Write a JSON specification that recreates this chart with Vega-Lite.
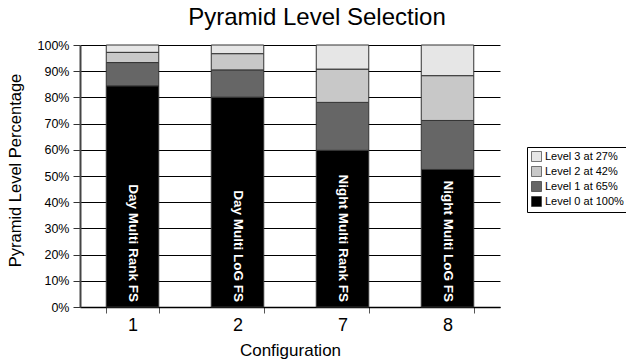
{
  "$schema": "https://vega.github.io/schema/vega-lite/v6.json",
  "autosize": "none",
  "padding": {"left": 80, "top": 45, "right": 126, "bottom": 56},
  "width": 420,
  "height": 262,
  "background": "white",
  "config": {
    "font": "Liberation Sans",
    "view": {"stroke": null}
  },
  "title": {
    "text": "Pyramid Level Selection",
    "fontSize": 24,
    "fontWeight": "normal",
    "color": "black",
    "anchor": "middle",
    "dx": 27,
    "offset": 9
  },
  "datasets": {
    "levels": [
      {"config": "1", "level": "Level 0 at 100%", "lvl": 0, "pct": 84.4},
      {"config": "1", "level": "Level 1 at 65%", "lvl": 1, "pct": 8.9},
      {"config": "1", "level": "Level 2 at 42%", "lvl": 2, "pct": 3.9},
      {"config": "1", "level": "Level 3 at 27%", "lvl": 3, "pct": 2.8},
      {"config": "2", "level": "Level 0 at 100%", "lvl": 0, "pct": 80.1},
      {"config": "2", "level": "Level 1 at 65%", "lvl": 1, "pct": 10.4},
      {"config": "2", "level": "Level 2 at 42%", "lvl": 2, "pct": 6.2},
      {"config": "2", "level": "Level 3 at 27%", "lvl": 3, "pct": 3.3},
      {"config": "7", "level": "Level 0 at 100%", "lvl": 0, "pct": 59.8},
      {"config": "7", "level": "Level 1 at 65%", "lvl": 1, "pct": 18.3},
      {"config": "7", "level": "Level 2 at 42%", "lvl": 2, "pct": 12.7},
      {"config": "7", "level": "Level 3 at 27%", "lvl": 3, "pct": 9.2},
      {"config": "8", "level": "Level 0 at 100%", "lvl": 0, "pct": 52.5},
      {"config": "8", "level": "Level 1 at 65%", "lvl": 1, "pct": 18.7},
      {"config": "8", "level": "Level 2 at 42%", "lvl": 2, "pct": 17.1},
      {"config": "8", "level": "Level 3 at 27%", "lvl": 3, "pct": 11.7}
    ],
    "names": [
      {"config": "1", "name": "Day Multi Rank FS"},
      {"config": "2", "name": "Day Multi LoG FS"},
      {"config": "7", "name": "Night Multi Rank FS"},
      {"config": "8", "name": "Night Multi LoG FS"}
    ]
  },
  "encoding": {
    "x": {
      "field": "config",
      "type": "nominal",
      "sort": ["1", "2", "7", "8"],
      "scale": {"paddingInner": 0.5, "paddingOuter": 0.25},
      "axis": {
        "title": "Configuration",
        "titleFontSize": 17,
        "titleFontWeight": "normal",
        "titleColor": "black",
        "titlePadding": 8,
        "labelAngle": 0,
        "labelFontSize": 18,
        "labelColor": "black",
        "labelPadding": 3,
        "tickBand": "extent",
        "tickSize": 6,
        "tickColor": "#555",
        "domainColor": "black",
        "domainWidth": 1.5,
        "grid": false
      }
    }
  },
  "layer": [
    {
      "data": {"name": "levels"},
      "mark": {"type": "bar", "stroke": "#333", "strokeWidth": 1},
      "encoding": {
        "y": {
          "field": "pct",
          "type": "quantitative",
          "stack": "zero",
          "scale": {"domain": [0, 100]},
          "axis": {
            "title": "Pyramid Level Percentage",
            "titleFontSize": 16.5,
            "titleFontWeight": "normal",
            "titleColor": "black",
            "titlePadding": 14,
            "titleY": 125,
            "values": [0, 10, 20, 30, 40, 50, 60, 70, 80, 90, 100],
            "labelOverlap": false,
            "labelExpr": "datum.value + '%'",
            "labelFontSize": 12.5,
            "labelColor": "black",
            "labelPadding": 4,
            "tickSize": 7,
            "tickColor": "#333",
            "grid": true,
            "gridColor": "black",
            "gridWidth": 1,
            "gridOpacity": 1,
            "domainColor": "#444",
            "domainWidth": 2
          }
        },
        "order": {"field": "lvl", "type": "quantitative", "sort": "ascending"},
        "color": {
          "field": "level",
          "type": "nominal",
          "scale": {
            "domain": ["Level 3 at 27%", "Level 2 at 42%", "Level 1 at 65%", "Level 0 at 100%"],
            "range": ["#e6e6e6", "#c8c8c8", "#666666", "#000000"]
          },
          "legend": {
            "title": null,
            "orient": "none",
            "legendX": 447,
            "legendY": 102,
            "padding": 4,
            "strokeColor": "black",
            "fillColor": "white",
            "symbolType": "square",
            "symbolSize": 100,
            "symbolStrokeColor": "#222",
            "symbolStrokeWidth": 0.6,
            "symbolOpacity": 1,
            "labelFontSize": 11,
            "labelColor": "black",
            "labelOffset": 3,
            "rowPadding": 2
          }
        }
      }
    },
    {
      "data": {"name": "names"},
      "mark": {
        "type": "text",
        "angle": 90,
        "align": "right",
        "baseline": "middle",
        "dx": -5,
        "color": "white",
        "fontWeight": "bold",
        "fontSize": 13.5
      },
      "encoding": {
        "y": {
          "datum": 0,
          "type": "quantitative",
          "axis": {
            "title": "Pyramid Level Percentage",
            "values": [0, 10, 20, 30, 40, 50, 60, 70, 80, 90, 100],
            "labelOverlap": false,
            "labelExpr": "datum.value + '%'",
            "grid": true
          }
        },
        "text": {"field": "name"}
      }
    }
  ]
}
